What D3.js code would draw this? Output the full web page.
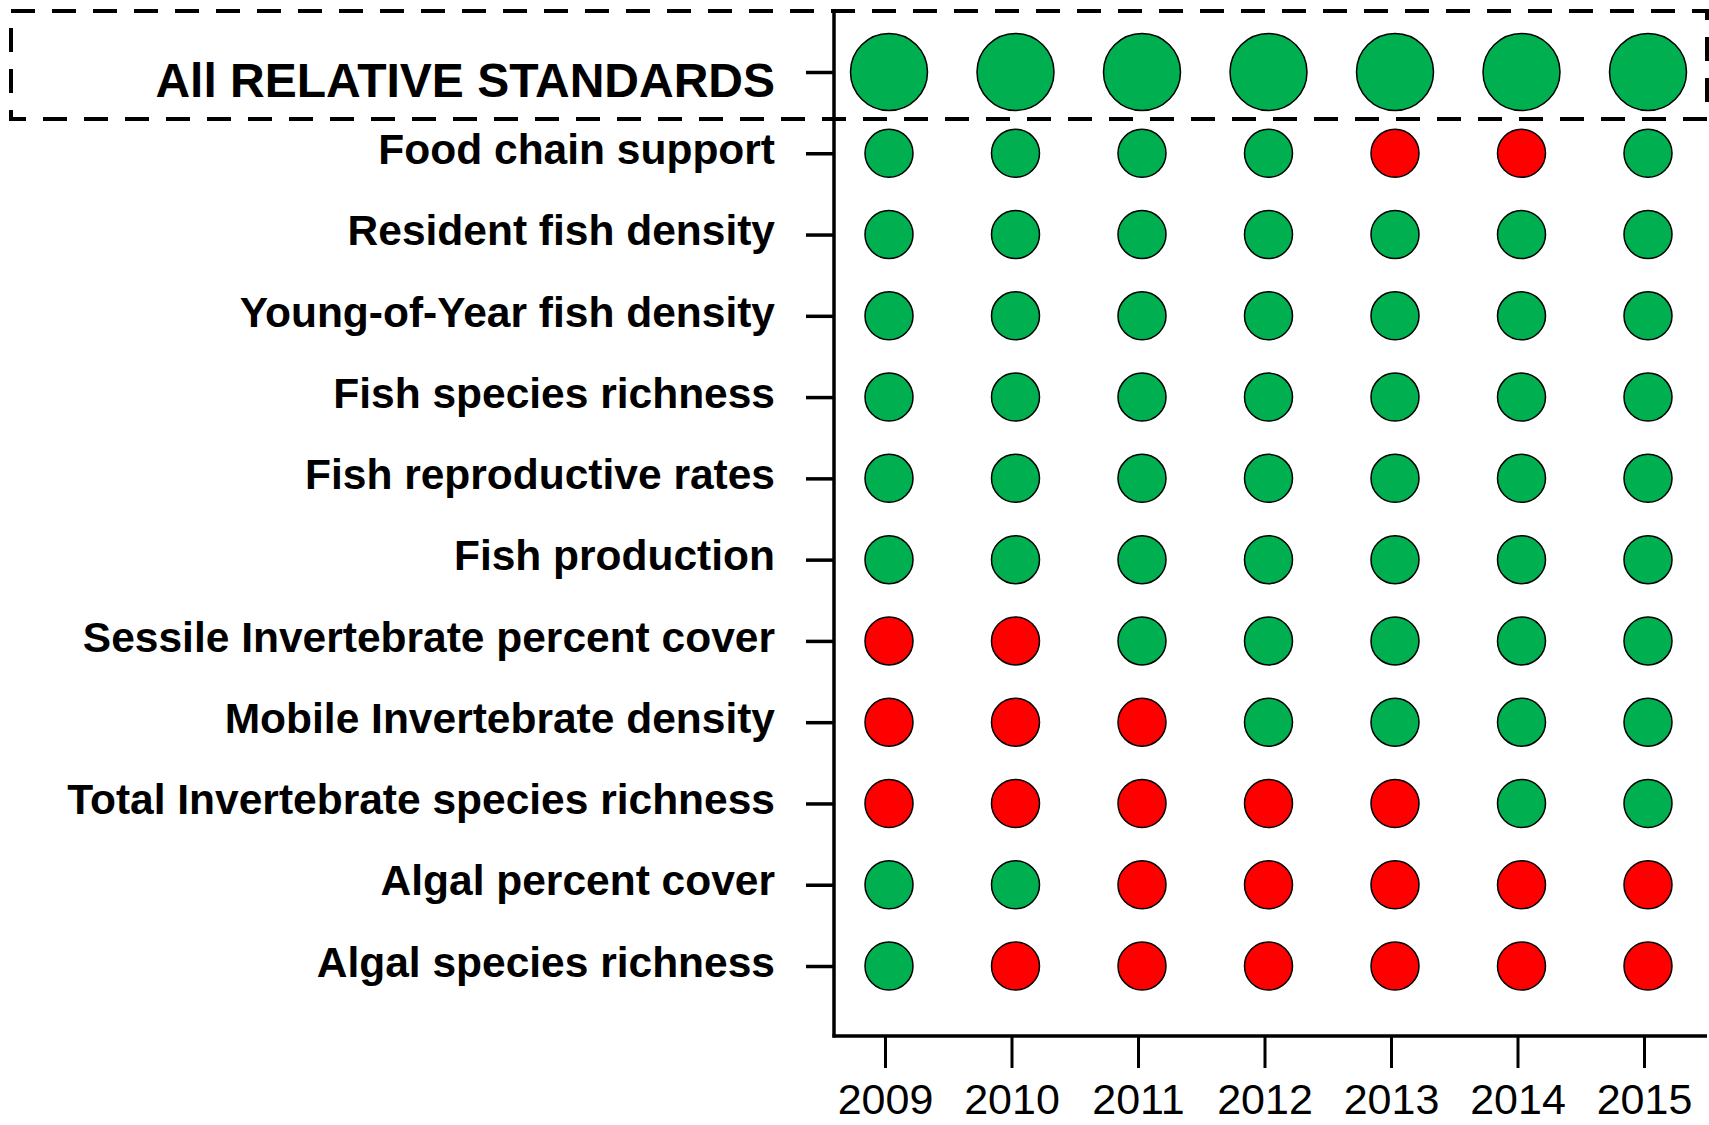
<!DOCTYPE html>
<html>
<head>
<meta charset="utf-8">
<script src="https://cdn.jsdelivr.net/npm/d3@7"></script>
<style>
  html, body { margin: 0; padding: 0; background: #fff; }
  svg { display: block; font-family: "Liberation Sans", Arial, Helvetica, sans-serif; }
</style>
</head>
<body>
<svg id="chart" width="1709" height="1125"></svg>
<script>
// ---- Data ----
const years = ["2009", "2010", "2011", "2012", "2013", "2014", "2015"];

const indicators = [
  "All RELATIVE STANDARDS",
  "Food chain support",
  "Resident fish density",
  "Young-of-Year fish density",
  "Fish species richness",
  "Fish reproductive rates",
  "Fish production",
  "Sessile Invertebrate percent cover",
  "Mobile Invertebrate density",
  "Total Invertebrate species richness",
  "Algal percent cover",
  "Algal species richness"
];

// status per indicator per year: "met" (green) / "not met" (red)
const allStandards          = ["met", "met", "met", "met", "met", "met", "met"];
const foodChainSupport      = ["met", "met", "met", "met", "not met", "not met", "met"];
const residentFishDensity   = ["met", "met", "met", "met", "met", "met", "met"];
const yoyFishDensity        = ["met", "met", "met", "met", "met", "met", "met"];
const fishSpeciesRichness   = ["met", "met", "met", "met", "met", "met", "met"];
const fishReproductiveRates = ["met", "met", "met", "met", "met", "met", "met"];
const fishProduction        = ["met", "met", "met", "met", "met", "met", "met"];
const sessileInvertCover    = ["not met", "not met", "met", "met", "met", "met", "met"];
const mobileInvertDensity   = ["not met", "not met", "not met", "met", "met", "met", "met"];
const totalInvertRichness   = ["not met", "not met", "not met", "not met", "not met", "met", "met"];
const algalPercentCover     = ["met", "met", "not met", "not met", "not met", "not met", "not met"];
const algalSpeciesRichness  = ["met", "not met", "not met", "not met", "not met", "not met", "not met"];

const statusRows = [
  allStandards, foodChainSupport, residentFishDensity, yoyFishDensity,
  fishSpeciesRichness, fishReproductiveRates, fishProduction,
  sessileInvertCover, mobileInvertDensity, totalInvertRichness,
  algalPercentCover, algalSpeciesRichness
];

// ---- Layout ----
const svg = d3.select("#chart");
const axisX = 834, axisBottomY = 1036, plotTop = 11, plotRight = 1707;

const x = d3.scalePoint().domain(years).range([889, 1648]);
const y = d3.scalePoint().domain(indicators).range([72, 966]);
const color = d3.scaleOrdinal().domain(["met", "not met"]).range(["#00B050", "#FF0000"]);

const cells = [];
indicators.forEach((ind, i) => {
  years.forEach((yr, j) => cells.push({ ind, yr, status: statusRows[i][j], summary: i === 0 }));
});

// dashed box around summary row
svg.append("rect")
  .attr("x", 11).attr("y", 11)
  .attr("width", 1696).attr("height", 108)
  .attr("fill", "none")
  .attr("stroke", "#000")
  .attr("stroke-width", 4)
  .attr("stroke-dasharray", "24 17");

// Y axis
const yAxis = d3.axisLeft(y).tickSize(28).tickPadding(31).tickSizeOuter(0);
const gy = svg.append("g").attr("transform", `translate(${axisX},0)`).call(yAxis);
gy.select(".domain").remove();
gy.selectAll(".tick line").attr("stroke", "#000").attr("stroke-width", 3.5);
gy.selectAll(".tick text")
  .attr("fill", "#000")
  .attr("font-weight", "bold")
  .attr("font-family", "'Liberation Sans', Arial, sans-serif")
  .attr("font-size", (d, i) => i === 0 ? 48 : 42.5)
  .attr("dy", (d, i) => i === 0 ? "0.5em" : "0.24em");

// X axis
const xAxis = d3.axisBottom(x).tickSize(32).tickPadding(15).tickSizeOuter(0);
const gx = svg.append("g").attr("transform", `translate(-4,${axisBottomY})`).call(xAxis);
gx.select(".domain").remove();
gx.selectAll(".tick line").attr("stroke", "#000").attr("stroke-width", 3);
gx.selectAll(".tick text")
  .attr("fill", "#000")
  .attr("font-family", "'Liberation Sans', Arial, sans-serif")
  .attr("font-size", 43)
  .attr("dy", "0.71em");

// axis lines
svg.append("line")
  .attr("x1", axisX).attr("x2", axisX)
  .attr("y1", plotTop).attr("y2", axisBottomY + 1.5)
  .attr("stroke", "#000").attr("stroke-width", 3.5);
svg.append("line")
  .attr("x1", axisX - 1.5).attr("x2", plotRight)
  .attr("y1", axisBottomY).attr("y2", axisBottomY)
  .attr("stroke", "#000").attr("stroke-width", 3.5);

// circles
svg.append("g").selectAll("circle")
  .data(cells)
  .join("circle")
  .attr("cx", d => x(d.yr))
  .attr("cy", d => y(d.ind))
  .attr("r", d => d.summary ? 38.5 : 24)
  .attr("fill", d => color(d.status))
  .attr("stroke", "#000")
  .attr("stroke-width", 1.5);
</script>
</body>
</html>
